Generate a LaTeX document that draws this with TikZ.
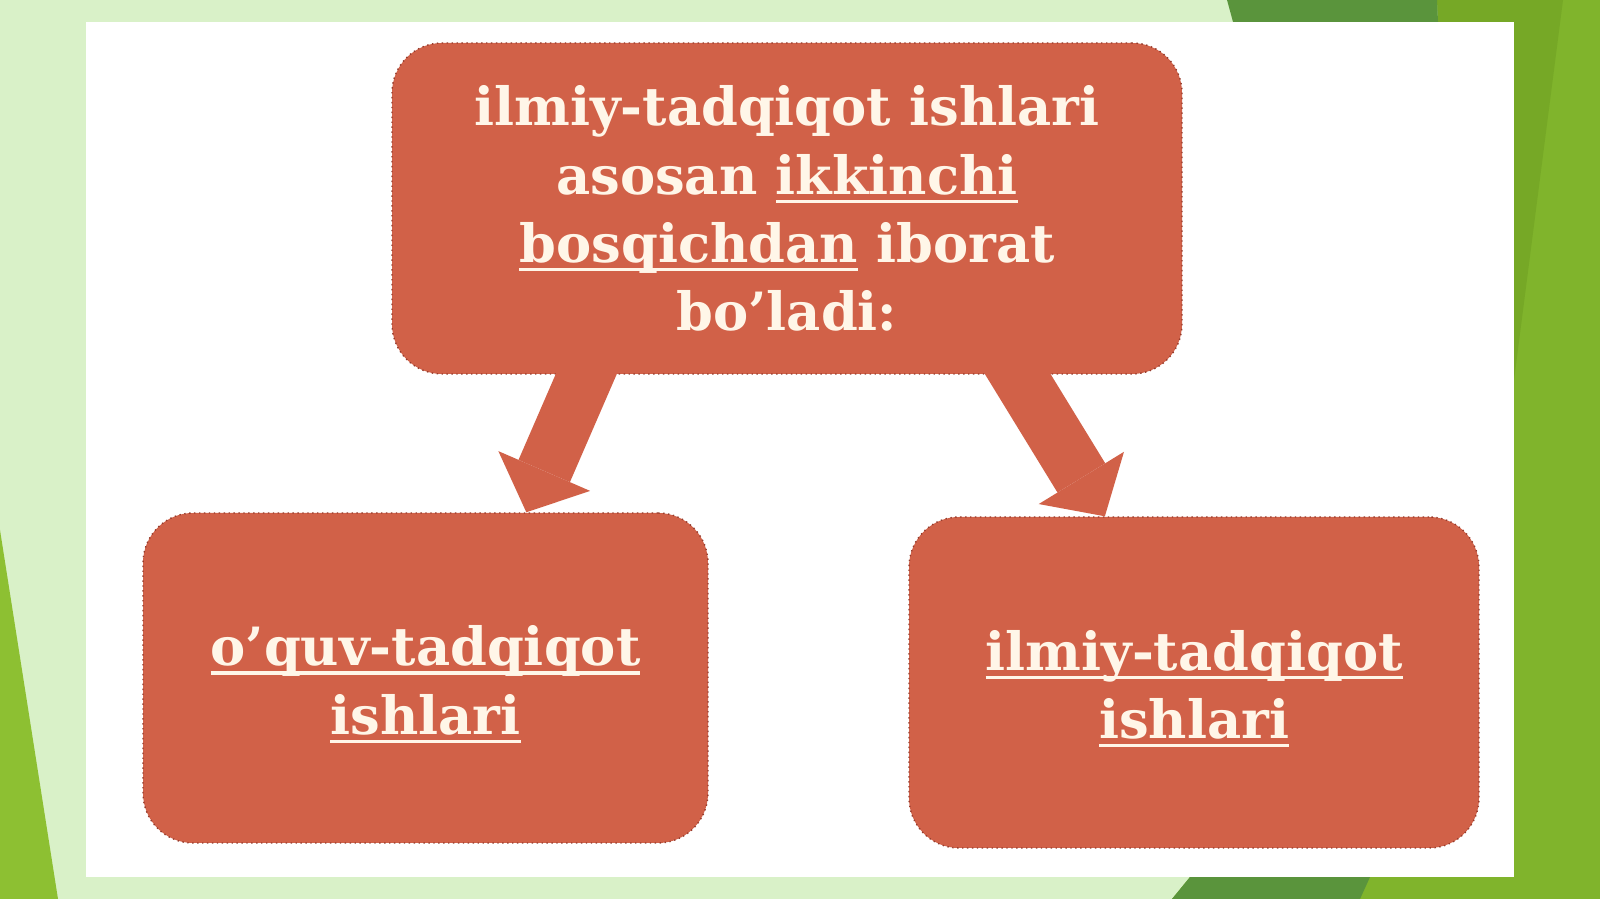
\documentclass[tikz,border=0pt]{standalone}
\usepackage{fontspec}
\setmainfont{DejaVu Serif}
\usetikzlibrary{arrows.meta, calc}

\definecolor{bglight}{RGB}{217,241,200}
\definecolor{limegreen}{RGB}{128,180,44}
\definecolor{rightdark}{RGB}{118,168,38}
\definecolor{darkband}{RGB}{90,148,60}
\definecolor{leftgreen}{RGB}{141,192,50}
\definecolor{boxfill}{RGB}{209,97,72}
\definecolor{boxline}{RGB}{150,60,45}
\definecolor{boxtext}{RGB}{255,246,232}

% underlined word
\newcommand{\ulword}[1]{\setbox0\hbox{#1}\rlap{\rule[-2.5pt]{\wd0}{0.9pt}}\box0\relax}

\begin{document}
\begin{tikzpicture}[
    redbox/.style={fill=boxfill, draw=boxline, densely dotted, line width=0.4pt,
        rounded corners=0.5cm, text=boxtext, align=center, inner sep=0pt,
        font=\bfseries\fontsize{15}{19.4}\selectfont},
    flowarrow/.style={draw=boxfill, line width=0.56cm, shorten <=-0.25cm,
        -{Triangle[length=0.45cm, width=1.0cm, line width=0pt]}}
]

    %% Slide background

    % Light green page
    \fill[bglight] (0, 0) rectangle (16, -8.99);

    % Green stripes
    \fill[limegreen] (14.37, 0) -- (16, 0) -- (16, -8.99) -- (11.72, -8.99)
        -- (11.90, -8.77) -- (14.38, -0.22) -- cycle;
    \fill[rightdark] (14.37, 0) -- (15.63, 0) -- (15.14, -3.8) -- (15.14, -0.22)
        -- (14.38, -0.22) -- cycle;
    \fill[darkband] (12.27, 0) -- (14.37, 0) -- (14.38, -0.22) -- (12.33, -0.22) -- cycle;
    \fill[darkband] (11.72, -8.99) -- (11.90, -8.77) -- (13.70, -8.77) -- (13.60, -8.99) -- cycle;
    \fill[leftgreen] (0, -5.3) -- (0.58, -8.99) -- (0, -8.99) -- cycle;

    % White panel
    \fill[white] (0.86, -0.22) rectangle (15.14, -8.77);

    %% Boxes

    % Top box
    \node[redbox, minimum width=7.90cm, minimum height=3.31cm] (top) at (7.87, -2.085)
        {ilmiy-tadqiqot ishlari\\ asosan \ulword{ikkinchi}\\ \ulword{bosqichdan} iborat\\ bo’ladi:};

    % Lower boxes
    \node[redbox, minimum width=5.65cm, minimum height=3.30cm] (study) at (4.255, -6.78)
        {\rule{0pt}{15pt}\ulword{o’quv-tadqiqot}\\ \ulword{ishlari}};
    \node[redbox, minimum width=5.70cm, minimum height=3.31cm] (research) at (11.94, -6.825)
        {\rule{0pt}{15pt}\ulword{ilmiy-tadqiqot}\\ \ulword{ishlari}};

    %% Arrows
    \draw[flowarrow] ($(top.south west)!0.246!(top.south east)$) -- ($(study.north west)!0.678!(study.north east)$);
    \draw[flowarrow] ($(top.south west)!0.792!(top.south east)$) -- ($(research.north west)!0.344!(research.north east)$);

\end{tikzpicture}
\end{document}
